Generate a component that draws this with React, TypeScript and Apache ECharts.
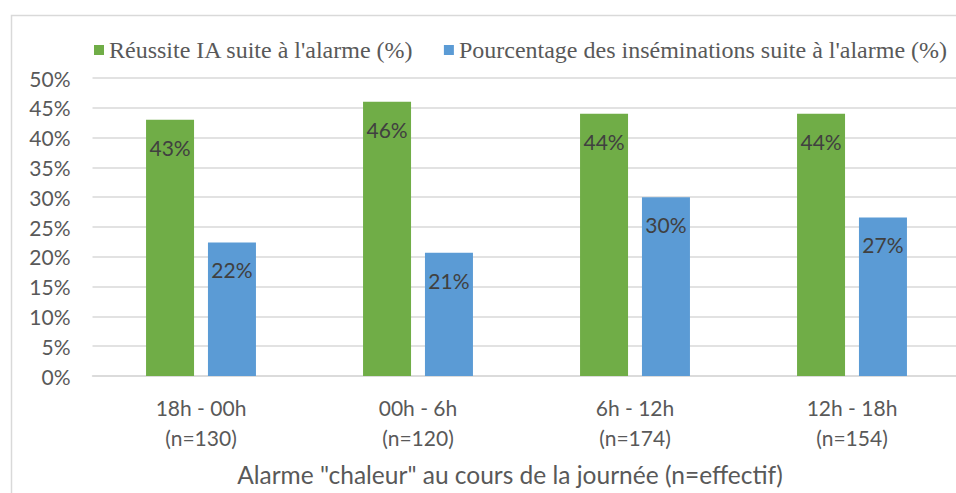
import React, { useEffect, useRef } from "react";
import * as echarts from "echarts";

const categories = ["18h - 00h\n(n=130)", "00h - 6h\n(n=120)", "6h - 12h\n(n=174)", "12h - 18h\n(n=154)"];
const seriesNames = ["Réussite IA suite à l'alarme (%)", "Pourcentage des inséminations suite à l'alarme (%)"];
const reussite = [43, 46, 44, 44];
const pourcentage = [22.4, 20.7, 30, 26.6];
const axisTitle = 'Alarme "chaleur" au cours de la journée (n=effectif)';

const SANS = "Lato, 'Open Sans', sans-serif";
const SERIF = "'Liberation Serif', 'Times New Roman', serif";

export default function App() {
  const ref = useRef<HTMLDivElement>(null);
  useEffect(() => {
    if (!ref.current) return;
    const chart = echarts.init(ref.current, undefined, { renderer: "svg" });
    const label = {
      show: true,
      position: "insideTop",
      distance: 17,
      fontFamily: SANS,
      fontSize: 21,
      color: "#404040",
      formatter: (p: any) => Math.round(p.value) + "%",
    };
    chart.setOption({
      animation: false,
      backgroundColor: "#ffffff",
      legend: {
        left: 89,
        top: 33,
        itemWidth: 10,
        itemHeight: 10,
        itemGap: 30,
        icon: "rect",
        textStyle: { fontFamily: SERIF, fontSize: 24, color: "#595959" },
        data: seriesNames,
      },
      grid: { left: 92.5, right: 14.5, top: 78, bottom: 117, containLabel: false },
      xAxis: {
        type: "category",
        data: categories,
        axisLine: { show: true, lineStyle: { color: "#d9d9d9", width: 1.5 } },
        axisTick: { show: false },
        axisLabel: {
          fontFamily: SANS,
          fontSize: 21,
          lineHeight: 30,
          color: "#595959",
          margin: 16,
          interval: 0,
        },
      },
      yAxis: {
        type: "value",
        min: 0,
        max: 50,
        interval: 5,
        axisLine: { show: false },
        axisTick: { show: false },
        splitLine: { lineStyle: { color: "#d9d9d9", width: 1.5 } },
        axisLabel: {
          formatter: "{value}%",
          fontFamily: SANS,
          fontSize: 21,
          color: "#595959",
          margin: 22,
        },
      },
      series: [
        {
          name: seriesNames[0],
          type: "bar",
          data: reussite,
          barWidth: 48,
          barGap: "29%",
          itemStyle: { color: "#70ad47" },
          label,
        },
        {
          name: seriesNames[1],
          type: "bar",
          data: pourcentage,
          barWidth: 48,
          barGap: "29%",
          itemStyle: { color: "#5b9bd5" },
          label,
        },
      ],
      graphic: [
        {
          type: "rect",
          shape: { x: 11.5, y: 15.5, width: 1100, height: 700 },
          style: { fill: "none", stroke: "#d9d9d9", lineWidth: 1.5 },
          silent: true,
        },
        {
          type: "text",
          x: 510,
          y: 474,
          style: {
            text: axisTitle,
            fontFamily: SANS,
            fontSize: 24.5,
            fill: "#595959",
            textAlign: "center",
            textVerticalAlign: "middle",
          },
        },
      ],
    });
    return () => chart.dispose();
  }, []);
  return (
    <div style={{ position: "fixed", left: 0, top: 0, width: 956, height: 493, overflow: "hidden", background: "#fff" }}>
      <div ref={ref} style={{ width: 975, height: 493 }} />
    </div>
  );
}
